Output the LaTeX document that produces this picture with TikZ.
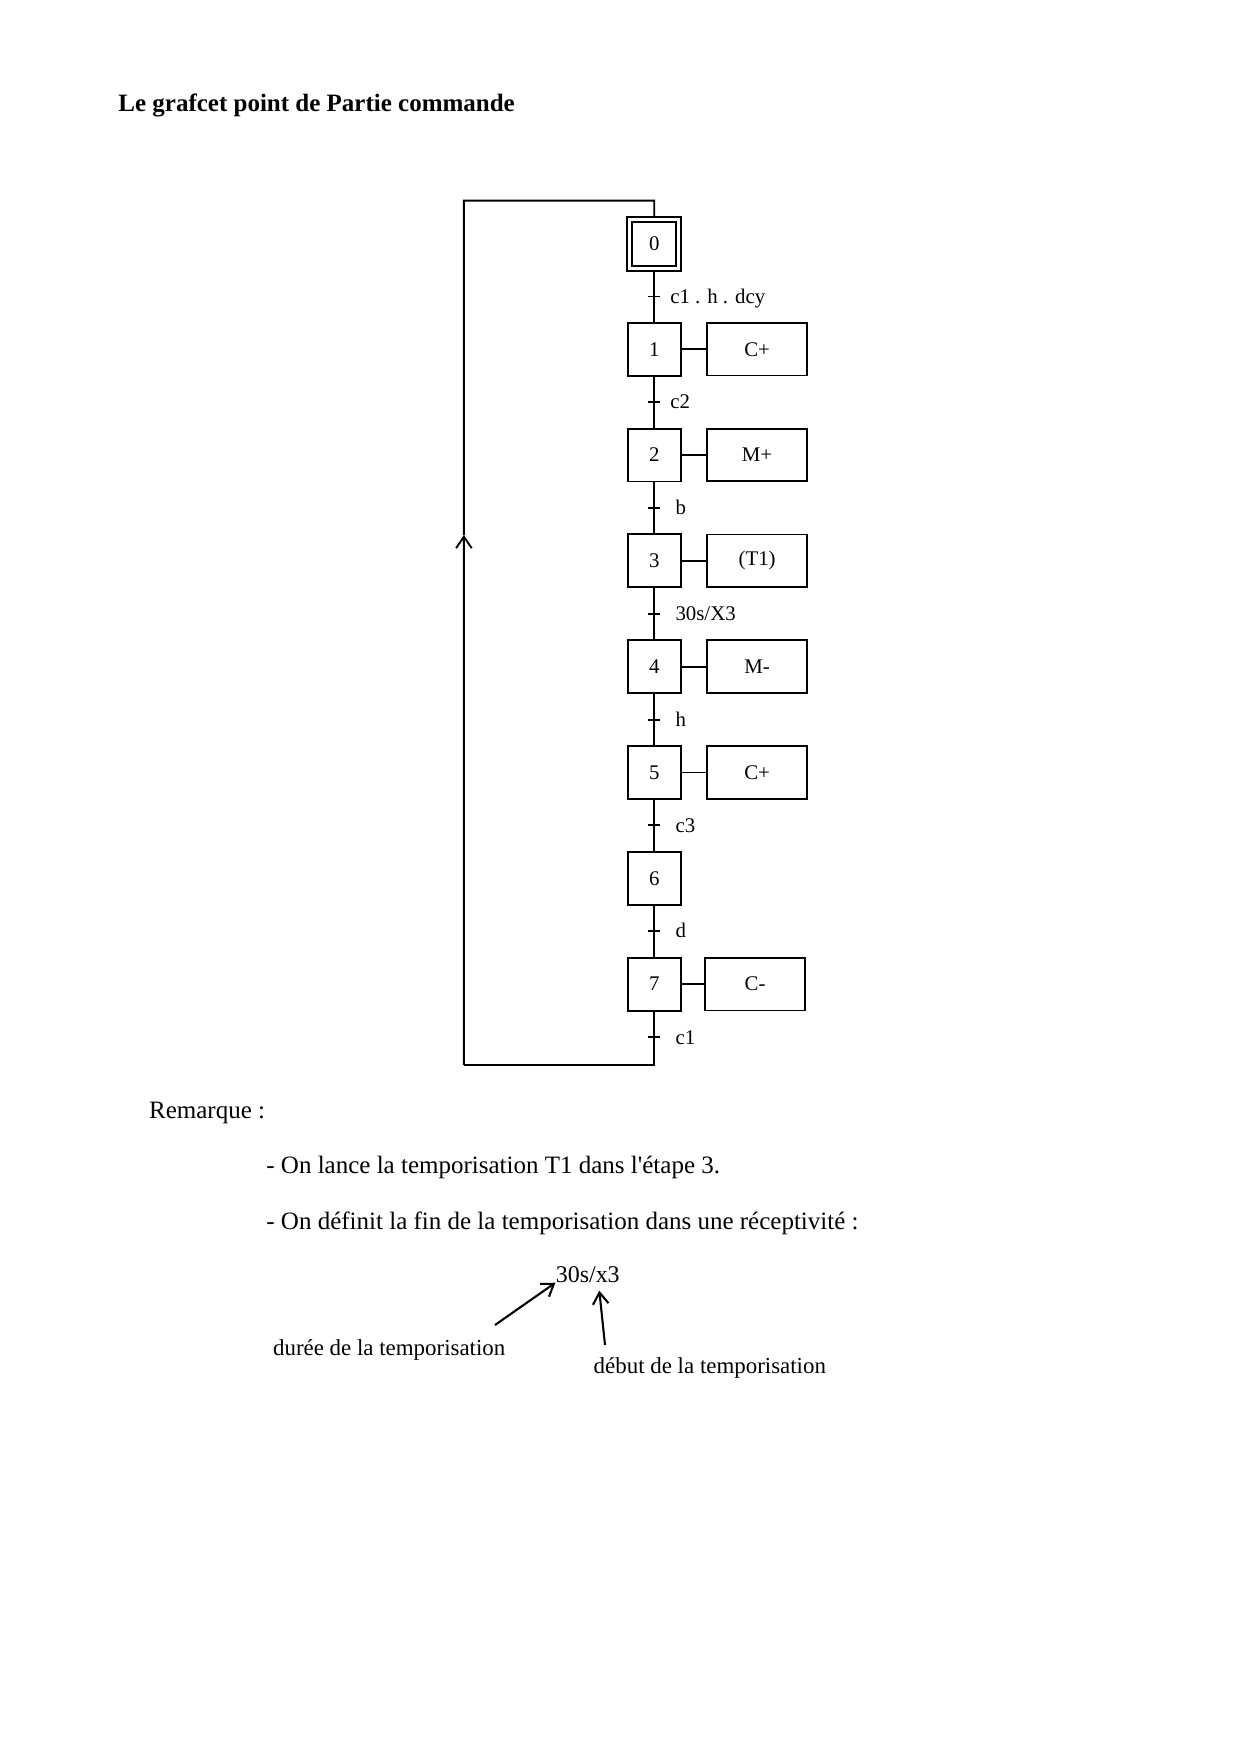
\documentclass[tikz,border=0pt]{standalone}
\usepackage{fontspec}
\setmainfont{Liberation Serif}
\usetikzlibrary{arrows.meta,positioning,calc}

\begin{document}
\begin{tikzpicture}[
  x=0.48006pt,y=-0.48006pt,
  node distance=24.5pt,
  etape/.style={draw,line width=0.9pt,minimum size=25.4pt,inner sep=0pt,font=\fontsize{10}{12}\selectfont},
  init/.style={etape,double,double distance=1.5pt,minimum size=23.5pt},
  action/.style={draw,line width=0.9pt,minimum width=48.3pt,minimum height=25.3pt,inner sep=0pt,font=\fontsize{10}{12}\selectfont},
  recep/.style={anchor=base west,inner sep=0pt,yshift=-3.2pt,font=\fontsize{10}{12}\selectfont},
  lien/.style={line width=0.9pt},
  fl/.style={-{Straight Barb[length=5.5pt,width=7.5pt]},line width=1pt},
  texte/.style={anchor=base west,inner sep=0pt,font=\fontsize{12}{14}\selectfont}
]
\useasboundingbox (0,0) rectangle (1240,1754);

\node[texte,font=\fontsize{12}{14}\selectfont\bfseries] (titre) at (118,111.7) {Le grafcet point de Partie commande};

% etapes
\node[init] (s0) at (654.3,243.7) {0};
\node[etape,below=25.3pt of s0] (s1) {1};
\node[etape,below=of s1] (s2) {2};
\node[etape,below=of s2] (s3) {3};
\node[etape,below=of s3] (s4) {4};
\node[etape,below=of s4] (s5) {5};
\node[etape,below=of s5] (s6) {6};
\node[etape,below=of s6] (s7) {7};

% actions
\node[action,right=11.6pt of s1] (a1) {C+};
\node[action,right=11.6pt of s2] (a2) {M+};
\node[action,right=11.6pt of s3] (a3) {(T1)};
\node[action,right=11.6pt of s4] (a4) {M-};
\node[action,right=11.6pt of s5] (a5) {C+};
\node[action,right=10.6pt of s7] (a7) {C-};
\draw[lien] (s1) -- (a1);
\draw[lien] (s2) -- (a2);
\draw[lien] (s3) -- (a3);
\draw[lien] (s4) -- (a4);
\draw[lien] (s5) -- (a5);
\draw[lien] (s7) -- (a7);

% liaisons et transitions
\draw[lien,shorten <=1.2pt] (s0.south) -- (s1.north);
\draw[lien] (s1) -- (s2);
\draw[lien] (s2) -- (s3);
\draw[lien] (s3) -- (s4);
\draw[lien] (s4) -- (s5);
\draw[lien] (s5) -- (s6);
\draw[lien] (s6) -- (s7);
\coordinate (t0) at ($(s0)!0.5!(s1)$);
\coordinate (t1) at ($(s1)!0.5!(s2)$);
\coordinate (t2) at ($(s2)!0.5!(s3)$);
\coordinate (t3) at ($(s3)!0.5!(s4)$);
\coordinate (t4) at ($(s4)!0.5!(s5)$);
\coordinate (t5) at ($(s5)!0.5!(s6)$);
\coordinate (t6) at ($(s6)!0.5!(s7)$);
\coordinate[below=12.4pt of s7] (t7);
\draw[lien] ([xshift=-2.9pt]t0) -- ([xshift=2.9pt]t0);
\draw[lien] ([xshift=-2.9pt]t1) -- ([xshift=2.9pt]t1);
\draw[lien] ([xshift=-2.9pt]t2) -- ([xshift=2.9pt]t2);
\draw[lien] ([xshift=-2.9pt]t3) -- ([xshift=2.9pt]t3);
\draw[lien] ([xshift=-2.9pt]t4) -- ([xshift=2.9pt]t4);
\draw[lien] ([xshift=-2.9pt]t5) -- ([xshift=2.9pt]t5);
\draw[lien] ([xshift=-2.9pt]t6) -- ([xshift=2.9pt]t6);
\draw[lien] ([xshift=-2.9pt]t7) -- ([xshift=2.9pt]t7);
\node[recep,xshift=7.5pt] (r0) at (t0) {c1 . h . dcy};
\node[recep,xshift=7.5pt] (r1) at (t1) {c2};
\node[recep,xshift=10pt] (r2) at (t2) {b};
\node[recep,xshift=10pt] (r3) at (t3) {30s/X3};
\node[recep,xshift=10pt] (r4) at (t4) {h};
\node[recep,xshift=10pt] (r5) at (t5) {c3};
\node[recep,xshift=10pt] (r6) at (t6) {d};
\node[recep,xshift=10pt] (r7) at (t7) {c1};

% retour vers l'etape initiale
\coordinate[below=13.2pt of t7] (bas);
\coordinate[above=8.5pt of s0] (haut);
\coordinate[left=91.4pt of bas] (bg);
\coordinate[left=91.4pt of haut] (hg);
\coordinate (fleche) at ($(bg)!0.613!(hg)$);
\draw[lien] (s7) -- (bas) -- (bg);
\draw[fl,line width=0.9pt] (bg) -- (fleche);
\draw[lien,shorten >=1.2pt] (fleche) -- (hg) -- (haut) -- (s0.north);

% remarque
\node[texte] (rq) at (148.7,1118.5) {Remarque :};
\node[texte] (rq1) at (266,1173.5) {- On lance la temporisation T1 dans l\textquotesingle étape 3.};
\node[texte] (rq2) at (266,1229) {- On définit la fin de la temporisation dans une réceptivité :};
\node[texte,font=\fontsize{11.5}{13}\selectfont] (tempo) at (555.4,1282.7) {30s/x3};
\node[texte,font=\fontsize{11}{13}\selectfont] (duree) at (272.7,1355) {durée de la temporisation};
\node[texte,font=\fontsize{11}{13}\selectfont] (debut) at (593.3,1373) {début de la temporisation};
\coordinate (q1) at (495,1325);
\coordinate (q2) at (605,1345);
\coordinate (p2) at (599.3,1290.7);
\draw[fl] (q1) -- (tempo.base west);
\draw[fl] (q2) -- (p2);
\end{tikzpicture}
\end{document}
